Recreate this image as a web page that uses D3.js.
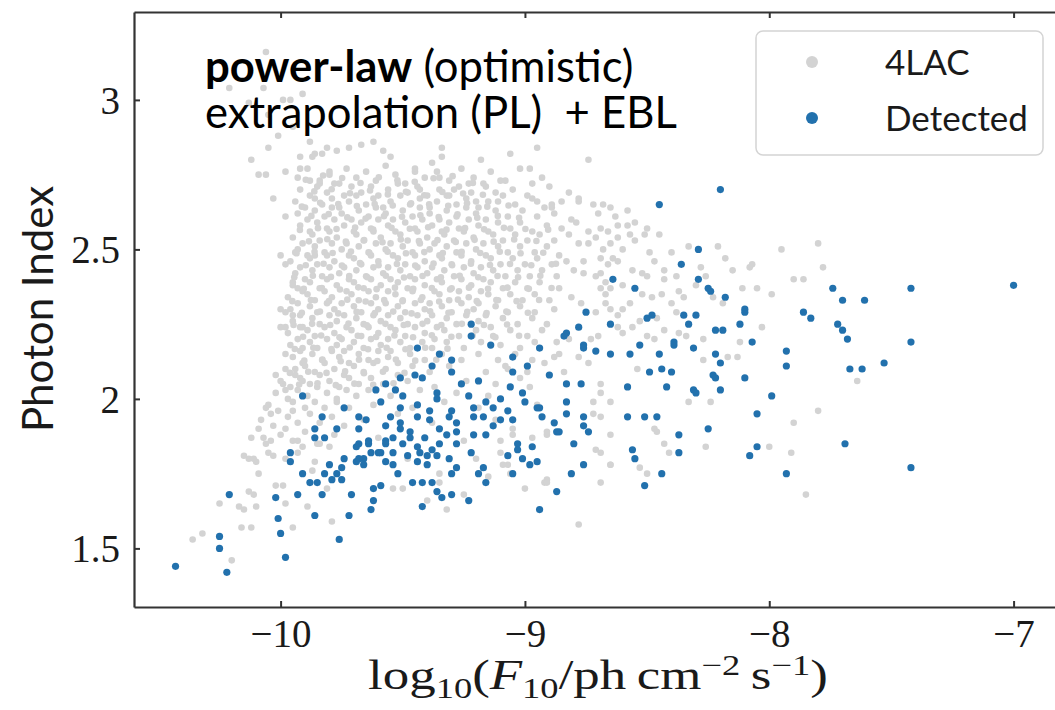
<!DOCTYPE html>
<html><head><meta charset="utf-8">
<script src="https://cdn.jsdelivr.net/npm/d3@7"></script>
<style>body{margin:0;background:#fff;overflow:hidden}</style>
</head><body>
<svg id="chart" width="1055" height="710"></svg>
<script>
// ---------- data ----------
const xTicks = [-10, -9, -8, -7];
const xTickLabels = ["\u221210", "\u22129", "\u22128", "\u22127"];
const yTicks = [1.5, 2, 2.5, 3];
const yTickLabels = ["1.5", "2", "2.5", "3"];
const seriesNames = ["4LAC", "Detected"];

// 4LAC sample: [log10 F10, photon index]
const lac4 = [
[-10.06,3.16],[-10.21,3.04],[-10.07,3.04],[-9.99,3.00],[-9.96,3.00],[-9.91,3.02],[-10.05,2.95],[-9.95,2.91],[-10.01,2.88],[-9.88,2.86],[-9.81,2.84],[-10.12,2.80],[-10.09,2.75],[-10.06,2.75],[-9.98,2.76],[-9.92,2.81],[-9.86,2.82],[-10.03,2.67],[-9.98,2.61],[-10.00,2.48],[-9.98,2.45],[-10.13,2.99],[-10.05,2.84],
[-9.94,2.49],[-9.86,2.48],[-9.95,2.39],[-9.93,2.37],[-10.00,2.30],[-9.98,2.29],[-9.95,2.28],[-9.98,2.24],[-9.92,2.24],
[-9.87,2.81],[-9.83,2.82],[-9.77,2.83],[-9.72,2.84],[-9.67,2.85],[-9.62,2.86],[-9.58,2.83],[-9.55,2.81],[-9.92,2.77],[-9.88,2.73],[-9.84,2.72],[-9.80,2.75],
[-9.34,2.84],[-9.18,2.80],[-9.06,2.82],[-8.95,2.84],[-8.74,2.80],[-9.38,2.79],[-9.34,2.81],[-9.45,2.76],[-9.35,2.74],[-9.23,2.72],[-9.10,2.73],[-8.98,2.77],[-8.97,2.72],[-9.16,2.71],[-9.29,2.70],[-9.43,2.70],[-8.78,2.66],[-8.89,2.64],[-9.11,2.66],[-9.20,2.66],[-8.95,2.66],[-8.57,2.55],[-8.65,2.52],[-8.76,2.46],[-8.62,2.46],[-8.69,2.37],[-8.67,2.35],[-8.52,2.35],
[-8.78,2.67],[-8.68,2.65],[-8.65,2.64],[-8.58,2.63],[-8.89,2.65],[-8.55,2.59],[-8.69,2.57],[-8.66,2.56],[-8.62,2.58],[-8.51,2.55],[-8.62,2.54],[-8.74,2.52],[-8.78,2.52],[-8.60,2.50],[-8.49,2.49],[-8.64,2.47],[-8.69,2.47],[-8.21,2.51],[-8.08,2.44],[-8.28,2.44],[-8.56,2.43],[-8.52,2.42],[-8.50,2.41],[-8.43,2.43],[-8.80,2.43],[-8.76,2.42],[-8.71,2.41],[-8.67,2.39],[-8.65,2.37],[-8.60,2.38],[-8.26,2.41],[-8.43,2.40],[-8.11,2.37],[-8.37,2.36],[-8.35,2.34],[-8.48,2.34],[-8.44,2.35],[-8.57,2.32],[-8.60,2.30],[-8.67,2.32],[-8.65,2.30],[-8.62,2.28],[-8.23,2.34],[-8.19,2.32],[-8.03,2.24],[-8.40,2.32],[-8.38,2.29],[-8.53,2.26],[-8.56,2.24],[-8.46,2.27],[-8.27,2.20],[-8.34,2.21],[-8.37,2.22],[-8.43,2.23],[-8.50,2.21],[-8.47,2.20],[-8.62,2.24],[-8.60,2.22],[-8.70,2.21],[-8.73,2.20],[-8.82,2.20],[-8.87,2.19],[-8.12,2.19],[-8.17,2.14],[-8.74,2.12],[-8.78,2.14],[-8.86,2.15],[-8.88,2.14],[-8.54,2.10],[-8.27,2.13],[-8.92,2.12],[-8.84,2.09],[-8.69,2.05],[-8.69,2.02],[-8.72,1.99],[-8.24,1.99],[-8.33,1.99],[-8.65,1.99],[-8.47,1.90],[-8.46,1.89],[-8.65,1.88],[-8.72,1.95],[-8.69,1.94],[-8.71,1.83],[-8.69,1.82],[-8.91,1.88],[-8.91,1.73],[-8.65,1.78],[-8.53,1.77],[-8.50,1.75],[-8.41,1.82],[-8.26,1.84],[-8.13,2.14],[-8.00,1.84],
[-8.78,1.58],[-8.92,1.72],[-9.32,1.63],[-9.07,1.78],[-9.06,1.75],[-8.69,1.72],[-8.65,1.78],[-8.91,1.89],[-8.43,1.85],[-7.91,1.82],[-7.90,1.92],[-7.80,1.96],[-7.85,1.68],[-7.64,2.06],[-7.80,2.52],[-8.07,2.45],[-7.90,2.40],[-7.86,2.40],[-7.99,2.35],
[-10.00,2.24],[-10.02,2.08],[-9.99,2.05],[-9.98,2.03],[-10.06,1.97],[-10.04,1.95],[-9.95,1.96],[-10.09,1.90],[-10.07,1.87],[-10.04,1.86],[-9.98,1.90],[-9.93,1.86],[-10.13,1.80],[-10.11,1.80],[-10.03,1.81],[-10.09,1.75],[-10.13,1.69],[-10.11,1.68],[-9.99,1.71],[-10.25,1.65],[-10.17,1.64],[-10.15,1.63],[-10.10,1.64],[-9.98,1.65],[-9.89,1.64],[-10.16,1.57],[-10.12,1.57],[-9.95,1.57],[-10.32,1.55],[-10.36,1.53],[-10.20,1.46],[-9.79,1.59],[-9.81,1.70],[-9.87,1.76],[-9.84,1.85],[-9.80,1.84],[-10.02,1.71],[-9.91,1.84],[-9.98,2.15],[-9.94,2.10],[-9.91,2.17],[-9.91,2.06],
[-9.07,2.10],[-8.98,2.04],[-8.95,1.98],[-9.05,1.90],[-9.10,1.86],[-8.97,1.87],[-9.20,1.80],[-9.15,1.74],[-9.35,1.72],[-9.50,1.70],[-9.25,1.68],[-9.00,1.70],[-9.40,1.66],[-9.09,1.78],[-9.35,1.75],[-9.54,1.70],[-8.91,1.72],
[-9.93,2.74],[-9.89,2.77],[-9.84,2.73],[-9.80,2.76],[-9.76,2.72],[-9.73,2.77],[-9.69,2.74],[-9.65,2.76],[-9.61,2.73],[-9.57,2.78],[-9.53,2.75],[-9.49,2.72],[-9.45,2.77],[-9.41,2.74],[-9.36,2.76],[-9.31,2.73],[-9.26,2.77],[-9.21,2.74],[-9.14,2.76],[-9.08,2.73],[-9.02,2.77],[-8.93,2.74],
[-9.92,2.70],[-9.88,2.68],[-9.85,2.71],[-9.81,2.69],[-9.78,2.72],[-9.74,2.68],[-9.71,2.71],[-9.67,2.69],[-9.63,2.71],[-9.60,2.68],[-9.56,2.70],[-9.52,2.72],[-9.48,2.69],[-9.44,2.71],[-9.40,2.68],[-9.35,2.70],[-9.31,2.68],[-9.27,2.71],[-9.22,2.69],[-9.17,2.72],[-9.12,2.69],[-9.05,2.70],[-8.99,2.68],[-8.90,2.71],[-8.82,2.69],
[-9.94,2.66],[-9.90,2.64],[-9.86,2.67],[-9.83,2.65],[-9.79,2.67],[-9.76,2.64],[-9.72,2.66],[-9.69,2.68],[-9.65,2.65],[-9.62,2.67],[-9.58,2.64],[-9.55,2.66],[-9.51,2.68],[-9.47,2.65],[-9.43,2.67],[-9.39,2.64],[-9.36,2.66],[-9.32,2.68],[-9.28,2.65],[-9.24,2.67],[-9.19,2.64],[-9.15,2.66],[-9.09,2.68],[-9.04,2.65],[-8.97,2.67],[-8.92,2.64],[-8.85,2.66],[-8.72,2.65],
[-9.93,2.62],[-9.89,2.60],[-9.86,2.63],[-9.82,2.61],[-9.79,2.64],[-9.75,2.62],[-9.71,2.60],[-9.68,2.63],[-9.64,2.61],[-9.61,2.64],[-9.57,2.62],[-9.54,2.60],[-9.50,2.63],[-9.46,2.61],[-9.43,2.64],[-9.39,2.62],[-9.35,2.60],[-9.32,2.63],[-9.28,2.61],[-9.24,2.64],[-9.20,2.62],[-9.16,2.60],[-9.12,2.63],[-9.07,2.61],[-9.01,2.63],[-8.95,2.61],[-8.88,2.62],[-8.81,2.60],[-8.70,2.62],[-8.63,2.61],
[-9.92,2.58],[-9.88,2.56],[-9.85,2.59],[-9.81,2.57],[-9.78,2.60],[-9.74,2.58],[-9.70,2.56],[-9.67,2.59],[-9.63,2.57],[-9.60,2.60],[-9.56,2.58],[-9.53,2.56],[-9.49,2.59],[-9.45,2.57],[-9.42,2.60],[-9.38,2.58],[-9.34,2.56],[-9.31,2.59],[-9.27,2.57],[-9.23,2.60],[-9.19,2.58],[-9.15,2.56],[-9.11,2.59],[-9.06,2.57],[-9.02,2.59],[-8.97,2.56],[-8.91,2.58],[-8.85,2.57],[-8.79,2.59],[-8.74,2.56],[-8.58,2.58],[-8.50,2.57],
[-9.95,2.54],[-9.91,2.52],[-9.87,2.55],[-9.84,2.53],[-9.80,2.56],[-9.77,2.54],[-9.73,2.52],[-9.69,2.55],[-9.66,2.53],[-9.62,2.56],[-9.59,2.54],[-9.55,2.52],[-9.51,2.55],[-9.48,2.53],[-9.44,2.56],[-9.40,2.54],[-9.37,2.52],[-9.33,2.55],[-9.29,2.53],[-9.25,2.56],[-9.21,2.54],[-9.17,2.52],[-9.13,2.55],[-9.09,2.53],[-9.04,2.55],[-8.99,2.53],[-8.94,2.55],[-8.88,2.53],[-8.82,2.55],[-8.71,2.54],[-8.55,2.53],[-8.45,2.55],
[-9.93,2.50],[-9.89,2.48],[-9.86,2.51],[-9.82,2.49],[-9.79,2.52],[-9.75,2.50],[-9.72,2.48],[-9.68,2.51],[-9.64,2.49],[-9.61,2.52],[-9.57,2.50],[-9.54,2.48],[-9.50,2.51],[-9.46,2.49],[-9.43,2.52],[-9.39,2.50],[-9.35,2.48],[-9.32,2.51],[-9.28,2.49],[-9.24,2.52],[-9.20,2.50],[-9.16,2.48],[-9.11,2.51],[-9.07,2.49],[-9.02,2.51],[-8.96,2.49],[-8.91,2.51],[-8.86,2.48],[-8.68,2.50],[-8.40,2.49],[-8.33,2.51],[-7.95,2.50],
[-9.96,2.46],[-9.92,2.44],[-9.88,2.47],[-9.85,2.45],[-9.81,2.48],[-9.78,2.46],[-9.74,2.44],[-9.70,2.47],[-9.67,2.45],[-9.63,2.48],[-9.60,2.46],[-9.56,2.44],[-9.52,2.47],[-9.49,2.45],[-9.45,2.48],[-9.41,2.46],[-9.38,2.44],[-9.34,2.47],[-9.30,2.45],[-9.26,2.48],[-9.22,2.46],[-9.18,2.44],[-9.14,2.47],[-9.10,2.45],[-9.05,2.47],[-9.00,2.45],[-8.95,2.47],[-8.89,2.45],[-8.83,2.46],[-8.66,2.45],[-8.47,2.46],[-8.18,2.47],
[-9.94,2.42],[-9.90,2.40],[-9.87,2.43],[-9.83,2.41],[-9.80,2.44],[-9.76,2.42],[-9.72,2.40],[-9.69,2.43],[-9.65,2.41],[-9.62,2.44],[-9.58,2.42],[-9.55,2.40],[-9.51,2.43],[-9.47,2.41],[-9.44,2.44],[-9.40,2.42],[-9.36,2.40],[-9.33,2.43],[-9.29,2.41],[-9.25,2.44],[-9.21,2.42],[-9.17,2.40],[-9.13,2.43],[-9.08,2.41],[-9.03,2.43],[-8.98,2.41],[-8.93,2.43],[-8.87,2.41],[-8.69,2.42],[-8.38,2.41],[-8.15,2.43],[-7.78,2.44],
[-9.95,2.38],[-9.91,2.36],[-9.88,2.39],[-9.84,2.37],[-9.81,2.40],[-9.77,2.38],[-9.73,2.36],[-9.70,2.39],[-9.66,2.37],[-9.63,2.40],[-9.59,2.38],[-9.56,2.36],[-9.52,2.39],[-9.48,2.37],[-9.45,2.40],[-9.41,2.38],[-9.37,2.36],[-9.34,2.39],[-9.30,2.37],[-9.26,2.40],[-9.22,2.38],[-9.18,2.36],[-9.14,2.39],[-9.09,2.37],[-9.04,2.39],[-8.99,2.37],[-8.94,2.39],[-8.86,2.37],[-8.30,2.38],[-8.05,2.37],
[-9.97,2.34],[-9.93,2.32],[-9.89,2.35],[-9.86,2.33],[-9.82,2.36],[-9.79,2.34],[-9.75,2.32],[-9.71,2.35],[-9.68,2.33],[-9.64,2.36],[-9.61,2.34],[-9.57,2.32],[-9.53,2.35],[-9.50,2.33],[-9.46,2.36],[-9.42,2.34],[-9.39,2.32],[-9.35,2.35],[-9.31,2.33],[-9.27,2.36],[-9.23,2.34],[-9.19,2.32],[-9.15,2.35],[-9.11,2.33],[-9.06,2.35],[-9.01,2.33],[-8.96,2.35],[-8.90,2.33],[-8.81,2.34],[-8.77,2.32],
[-9.96,2.30],[-9.92,2.28],[-9.88,2.31],[-9.85,2.29],[-9.81,2.32],[-9.78,2.30],[-9.74,2.28],[-9.70,2.31],[-9.67,2.29],[-9.63,2.32],[-9.60,2.30],[-9.56,2.28],[-9.52,2.31],[-9.49,2.29],[-9.45,2.32],[-9.41,2.30],[-9.38,2.28],[-9.34,2.31],[-9.30,2.29],[-9.26,2.32],[-9.21,2.30],[-9.16,2.28],[-9.12,2.31],[-9.07,2.29],[-9.02,2.31],[-8.96,2.29],[-8.88,2.30],[-8.71,2.29],
[-9.95,2.26],[-9.91,2.24],[-9.87,2.27],[-9.84,2.25],[-9.80,2.28],[-9.77,2.26],[-9.73,2.24],[-9.69,2.27],[-9.66,2.25],[-9.62,2.28],[-9.59,2.26],[-9.55,2.24],[-9.51,2.27],[-9.48,2.25],[-9.44,2.28],[-9.40,2.26],[-9.36,2.24],[-9.32,2.27],[-9.28,2.25],[-9.24,2.28],[-9.19,2.26],[-9.14,2.24],[-9.09,2.27],[-9.03,2.25],[-8.97,2.27],[-8.91,2.25],
[-9.97,2.22],[-9.93,2.20],[-9.89,2.23],[-9.86,2.21],[-9.82,2.24],[-9.78,2.22],[-9.75,2.20],[-9.71,2.23],[-9.67,2.21],[-9.64,2.24],[-9.60,2.22],[-9.56,2.20],[-9.53,2.23],[-9.49,2.21],[-9.45,2.24],[-9.41,2.22],[-9.37,2.20],[-9.33,2.23],[-9.27,2.21],[-9.20,2.23],[-9.13,2.21],[-9.06,2.23],[-8.99,2.21],[-8.93,2.23],
[-9.96,2.18],[-9.92,2.16],[-9.88,2.19],[-9.85,2.17],[-9.81,2.20],[-9.77,2.18],[-9.74,2.16],[-9.70,2.19],[-9.66,2.17],[-9.63,2.20],[-9.59,2.18],[-9.55,2.16],[-9.51,2.19],[-9.47,2.17],[-9.42,2.19],[-9.38,2.17],[-9.32,2.19],[-9.25,2.17],[-9.18,2.19],[-9.10,2.18],[-9.02,2.17],[-8.96,2.19],
[-9.95,2.14],[-9.91,2.12],[-9.87,2.15],[-9.83,2.13],[-9.79,2.16],[-9.76,2.14],[-9.72,2.12],[-9.68,2.15],[-9.64,2.13],[-9.60,2.16],[-9.56,2.14],[-9.52,2.12],[-9.47,2.15],[-9.41,2.13],[-9.34,2.15],[-9.26,2.13],[-9.19,2.15],[-9.11,2.13],[-9.04,2.15],[-8.97,2.13],
[-9.98,2.10],[-9.94,2.08],[-9.90,2.11],[-9.86,2.09],[-9.82,2.12],[-9.78,2.10],[-9.74,2.08],[-9.70,2.11],[-9.66,2.09],[-9.62,2.12],[-9.57,2.10],[-9.52,2.08],[-9.46,2.11],[-9.39,2.09],[-9.31,2.11],[-9.16,2.09],[-9.08,2.11],[-8.99,2.09],
[-10.00,2.06],[-9.96,2.04],[-9.92,2.07],[-9.88,2.05],[-9.84,2.08],[-9.80,2.06],[-9.76,2.04],[-9.72,2.07],[-9.68,2.05],[-9.63,2.07],[-9.58,2.05],[-9.48,2.06],[-9.37,2.04],[-9.24,2.06],[-9.12,2.05],[-9.02,2.07],
[-10.02,2.02],[-9.97,2.00],[-9.93,2.03],[-9.89,2.01],[-9.85,2.04],[-9.81,2.02],[-9.77,2.00],[-9.73,2.03],[-9.69,2.01],[-9.64,2.03],[-9.55,2.01],[-9.43,2.03],[-9.28,2.02],[-9.15,2.01],
[-10.05,1.98],[-10.01,1.96],[-9.95,1.99],[-9.90,1.97],[-9.86,1.99],[-9.82,1.97],[-9.77,1.99],[-9.72,1.97],[-9.62,1.98],[-9.46,1.97],[-9.33,1.99],[-9.19,1.97],
[-10.08,1.93],[-10.03,1.91],[-9.97,1.94],[-9.93,1.92],[-9.88,1.95],[-9.84,1.92],[-9.79,1.94],[-9.74,1.91],[-9.66,1.93],[-9.52,1.95],[-9.38,1.92],[-9.12,1.93],
[-10.12,1.87],[-10.06,1.85],[-10.00,1.88],[-9.95,1.86],[-9.90,1.89],[-9.85,1.85],[-9.78,1.88],[-9.60,1.87],[-9.25,1.86],[-9.05,1.88],
[-10.15,1.81],[-10.10,1.79],[-10.05,1.82],[-9.98,1.80],[-9.93,1.82],[-9.86,1.79],[-9.48,1.80],[-9.10,1.82],
[-9.897,2.733],[-9.862,2.694],[-9.826,2.747],[-9.791,2.701],[-9.748,2.739],[-9.716,2.688],[-9.673,2.722],[-9.634,2.697],[-9.598,2.741],[-9.561,2.684],[-9.522,2.731],[-9.487,2.693],[-9.451,2.726],[-9.412,2.681],[-9.374,2.738],[-9.338,2.692],[-9.296,2.745],[-9.253,2.687],[-9.213,2.722],[-9.172,2.683],
[-9.913,2.643],[-9.874,2.612],[-9.838,2.656],[-9.803,2.618],[-9.764,2.652],[-9.727,2.607],[-9.688,2.645],[-9.652,2.603],[-9.615,2.652],[-9.577,2.611],[-9.541,2.647],[-9.503,2.609],[-9.466,2.654],[-9.428,2.614],[-9.392,2.651],[-9.353,2.608],[-9.314,2.646],[-9.276,2.617],[-9.237,2.654],[-9.195,2.606],[-9.154,2.643],[-9.111,2.612],[-9.067,2.647],[-9.024,2.606],
[-9.921,2.565],[-9.884,2.527],[-9.847,2.571],[-9.809,2.534],[-9.771,2.568],[-9.733,2.526],[-9.695,2.573],[-9.658,2.531],[-9.621,2.566],[-9.583,2.524],[-9.546,2.572],[-9.508,2.533],[-9.471,2.569],[-9.434,2.528],[-9.396,2.574],[-9.358,2.531],[-9.321,2.566],[-9.283,2.525],[-9.245,2.571],[-9.206,2.532],[-9.167,2.567],[-9.128,2.526],[-9.086,2.572],[-9.044,2.533],[-8.998,2.568],[-8.953,2.528],[-8.905,2.566],
[-9.935,2.487],[-9.897,2.447],[-9.861,2.492],[-9.824,2.452],[-9.787,2.488],[-9.749,2.446],[-9.712,2.493],[-9.675,2.454],[-9.637,2.489],[-9.599,2.447],[-9.562,2.492],[-9.524,2.451],[-9.487,2.487],[-9.449,2.446],[-9.412,2.491],[-9.374,2.453],[-9.336,2.488],[-9.298,2.447],[-9.259,2.492],[-9.221,2.452],[-9.183,2.488],[-9.143,2.448],[-9.103,2.492],[-9.061,2.451],[-9.018,2.487],[-8.974,2.447],[-8.925,2.489],[-8.873,2.452],
[-9.944,2.407],[-9.905,2.368],[-9.868,2.412],[-9.831,2.371],[-9.794,2.408],[-9.757,2.366],[-9.719,2.411],[-9.682,2.373],[-9.645,2.407],[-9.607,2.367],[-9.569,2.412],[-9.532,2.372],[-9.495,2.406],[-9.457,2.368],[-9.419,2.411],[-9.381,2.371],[-9.344,2.407],[-9.306,2.366],[-9.267,2.412],[-9.229,2.372],[-9.191,2.407],[-9.151,2.368],[-9.112,2.411],[-9.071,2.372],[-9.028,2.407],[-8.984,2.368],[-8.937,2.412],[-8.891,2.371],
[-9.952,2.327],[-9.913,2.288],[-9.876,2.331],[-9.839,2.292],[-9.802,2.327],[-9.764,2.286],[-9.727,2.332],[-9.689,2.291],[-9.652,2.326],[-9.614,2.287],[-9.576,2.331],[-9.539,2.292],[-9.501,2.327],[-9.464,2.286],[-9.426,2.331],[-9.388,2.293],[-9.351,2.326],[-9.313,2.288],[-9.274,2.332],[-9.236,2.291],[-9.197,2.327],[-9.157,2.287],[-9.117,2.331],[-9.076,2.292],[-9.034,2.327],[-8.988,2.288],[-8.942,2.331],
[-9.947,2.247],[-9.908,2.208],[-9.871,2.251],[-9.834,2.212],[-9.797,2.247],[-9.759,2.206],[-9.722,2.252],[-9.684,2.211],[-9.647,2.246],[-9.609,2.207],[-9.571,2.251],[-9.534,2.212],[-9.496,2.247],[-9.458,2.206],[-9.419,2.251],[-9.381,2.213],[-9.342,2.247],[-9.301,2.208],[-9.258,2.251],[-9.214,2.212],[-9.168,2.247],[-9.121,2.206],[-9.073,2.249],[-9.024,2.211],
[-9.942,2.167],[-9.903,2.128],[-9.866,2.171],[-9.829,2.132],[-9.792,2.167],[-9.754,2.126],[-9.717,2.172],[-9.679,2.131],[-9.642,2.166],[-9.604,2.127],[-9.566,2.171],[-9.528,2.132],[-9.489,2.166],[-9.449,2.128],[-9.408,2.171],[-9.363,2.131],[-9.317,2.168],
[-9.962,2.087],[-9.924,2.048],[-9.887,2.091],[-9.849,2.052],[-9.812,2.087],[-9.774,2.046],[-9.736,2.092],[-9.698,2.051],[-9.659,2.086],[-9.621,2.047],[-9.581,2.091],[-9.538,2.052],[-9.493,2.087]
];

// Detected sample: [log10 F10, photon index]
const detected = [
[-9.91,2.01],[-9.83,1.94],[-9.86,1.90],[-9.86,1.87],[-9.82,1.87],[-9.77,1.90],[-9.96,1.82],[-9.96,1.79],[-9.80,1.78],[-9.82,1.75],[-9.79,1.73],[-9.77,1.75],[-9.91,1.75],[-9.88,1.72],[-9.85,1.72],[-10.21,1.68],[-10.02,1.67],[-9.93,1.68],[-9.83,1.68],[-9.86,1.61],[-10.01,1.60],[-10.00,1.55],[-10.25,1.54],[-10.25,1.50],[-9.76,1.53],[-9.98,1.47],[-10.43,1.44],[-10.22,1.42],
[-9.68,1.85],[-9.64,1.85],[-9.57,1.86],[-9.69,1.79],[-9.66,1.80],[-9.60,1.82],
[-9.22,2.25],[-9.22,2.21],[-9.14,2.18],[-9.44,2.17],[-8.94,2.17],[-9.35,2.15],[-9.05,2.14],[-9.30,2.13],[-9.38,2.11],[-8.99,2.11],[-9.30,2.09],[-9.05,2.09],[-8.90,2.08],[-9.45,2.08],[-9.51,2.07],[-9.42,2.07],[-9.19,2.06],[-9.26,2.05],[-9.57,2.05],[-9.06,2.04],[-9.61,2.03],[-9.53,2.03],[-9.36,2.02],[-9.23,2.01],[-9.01,2.02],[-9.50,2.01],[-9.36,2.00],[-9.10,2.00],[-9.59,1.99],[-9.00,1.99],[-9.16,1.99],[-9.74,1.97],[-9.51,1.97],[-9.44,1.98],[-9.21,1.97],[-9.13,1.97],[-8.95,1.97],[-8.94,1.97],[-9.39,1.96],[-9.30,1.96],[-9.07,1.96],[-9.55,1.94],[-9.68,1.94],[-9.44,1.94],[-9.31,1.94],[-9.21,1.94],[-9.17,1.94],[-8.93,1.94],[-9.10,1.93],[-9.05,1.93],[-9.65,1.93],[-9.51,1.92],[-9.39,1.93],[-9.28,1.92],[-9.57,1.91],[-8.88,1.92],[-9.13,1.91],[-9.35,1.90],[-9.47,1.89],[-9.51,1.90],[-9.68,1.90],[-9.28,1.89],[-9.21,1.88],[-8.87,1.89],[-9.16,1.88],[-9.54,1.87],[-9.47,1.87],[-9.41,1.87],[-9.32,1.88],[-9.64,1.86],[-9.57,1.85],[-9.50,1.85],[-9.35,1.85],[-9.28,1.85],[-9.03,1.85],[-9.69,1.84],[-9.44,1.84],[-8.97,1.84],[-9.03,1.83],[-9.38,1.83],[-9.59,1.82],[-9.54,1.82],[-9.22,1.82],[-9.63,1.82],[-9.48,1.81],[-9.43,1.82],[-9.40,1.81],[-9.36,1.81],[-9.07,1.81],[-9.74,1.80],[-9.68,1.80],[-9.31,1.80],[-9.01,1.80],[-8.95,1.79],[-9.57,1.79],[-9.44,1.79],[-9.66,1.78],[-9.40,1.78],[-9.54,1.78],[-8.98,1.78],[-9.75,1.77],[-9.28,1.77],[-9.17,1.77],[-9.52,1.75],[-9.05,1.75],[-9.30,1.75],[-9.19,1.75],[-9.75,1.73],[-9.46,1.72],[-9.42,1.72],[-9.38,1.72],[-9.16,1.72],[-9.59,1.71],[-9.62,1.70],[-9.36,1.69],[-9.71,1.68],[-9.30,1.68],[-9.34,1.67],[-9.62,1.66],[-9.23,1.66],[-8.87,1.69],[-9.42,1.64],[-9.63,1.63],[-8.94,1.63],[-9.72,1.61],
[-8.20,2.70],[-8.45,2.65],[-8.29,2.50],[-8.36,2.45],[-8.64,2.40],[-8.29,2.40],[-8.55,2.37],[-8.25,2.37],[-8.24,2.36],[-8.18,2.34],[-8.10,2.30],[-8.10,2.29],[-8.75,2.29],[-8.50,2.27],[-8.48,2.28],[-8.35,2.28],[-8.30,2.28],[-8.33,2.25],[-8.65,2.25],[-8.12,2.25],[-8.78,2.24],[-8.83,2.22],[-8.84,2.21],[-8.22,2.23],[-8.19,2.23],[-8.39,2.19],[-8.39,2.18],[-8.07,2.19],[-8.76,2.18],[-8.53,2.18],[-8.76,2.17],[-8.71,2.16],[-8.31,2.17],[-8.65,2.15],[-8.57,2.15],[-8.45,2.15],[-8.22,2.15],[-8.20,2.12],[-8.49,2.09],[-8.44,2.10],[-8.40,2.09],[-8.23,2.08],[-8.22,2.07],[-8.10,2.07],[-8.83,2.05],[-8.77,2.05],[-8.58,2.04],[-8.42,2.04],[-8.31,2.03],[-8.30,2.02],[-8.20,2.03],[-8.83,1.99],[-8.83,1.95],[-8.76,1.94],[-8.58,1.94],[-8.51,1.94],[-8.46,1.94],[-8.05,1.95],[-8.76,1.91],[-8.74,1.89],[-8.86,1.89],[-8.25,1.90],[-8.37,1.88],[-8.80,1.85],[-8.56,1.83],[-8.55,1.80],[-8.37,1.82],[-8.05,1.84],[-8.08,1.81],[-8.76,1.78],[-8.81,1.75],[-8.44,1.75],[-8.51,1.71],
[-7.86,2.29],[-7.83,2.27],[-7.72,2.25],[-7.70,2.23],[-7.68,2.20],[-7.42,2.19],[-7.93,2.16],[-7.93,2.11],[-7.67,2.10],[-7.62,2.10],[-7.53,2.12],[-7.99,2.01],[-7.69,1.85],[-7.93,1.75],[-7.42,1.77],
[-7.74,2.37],[-7.70,2.33],[-7.61,2.33],[-7.42,2.37],[-7.00,2.38]
];

// ---------- layout ----------
const W = 1055, H = 710;
const svg = d3.select("#chart");
const x = d3.scaleLinear().domain([-10.6, -6.7]).range([134, 134 + 3.9 * 244.33]);
const y = d3.scaleLinear().domain([1.304, 3.294]).range([607, 12]);
const serif = "'Liberation Serif','DejaVu Serif',serif";
const sans = "Lato,'Open Sans','DejaVu Sans',sans-serif";
const grayCol = "#d3d3d3", blueCol = "#2271ad";

svg.append("rect").attr("width", W).attr("height", H).attr("fill", "#fff");

// points
svg.append("g").selectAll("circle").data(lac4).join("circle")
  .attr("cx", d => x(d[0])).attr("cy", d => y(d[1])).attr("r", 3.3).attr("fill", grayCol);
svg.append("g").selectAll("circle").data(detected).join("circle")
  .attr("cx", d => x(d[0])).attr("cy", d => y(d[1])).attr("r", 3.6).attr("fill", blueCol);

// axes
const axisColor = "#333";
function styleAxis(g) {
  g.select(".domain").attr("stroke", axisColor).attr("stroke-width", 2.2);
  g.selectAll(".tick line").attr("stroke", axisColor).attr("stroke-width", 2);
  g.selectAll(".tick text").attr("font-family", serif).attr("font-size", 39).attr("fill", "#1a1a1a");
}
const gl = svg.append("g").attr("transform", `translate(${x(-10.6)},0)`)
  .call(d3.axisLeft(y).tickValues(yTicks).tickFormat((d, i) => yTickLabels[i]).tickSizeInner(-6).tickSizeOuter(0).tickPadding(14));
styleAxis(gl);
gl.selectAll(".tick text").attr("dy", "0.34em");
const gb = svg.append("g").attr("transform", `translate(0,${y(1.304)})`)
  .call(d3.axisBottom(x).tickValues(xTicks).tickFormat((d, i) => xTickLabels[i]).tickSizeInner(-6).tickSizeOuter(0).tickPadding(12));
styleAxis(gb);
const gt = svg.append("g").attr("transform", `translate(0,${y(3.294)})`)
  .call(d3.axisTop(x).tickValues(xTicks).tickFormat(() => "").tickSizeInner(-6).tickSizeOuter(0));
styleAxis(gt);

// axis labels
svg.append("text").attr("transform", "translate(53,309) rotate(-90)")
  .attr("text-anchor", "middle").attr("font-family", sans).attr("font-size", 42).attr("fill", "#1a1a1a")
  .text("Photon Index");

const xl = svg.append("text").attr("text-anchor", "middle")
  .attr("font-family", serif).attr("font-size", 42).attr("fill", "#1a1a1a");
xl.append("tspan").text("log");
xl.append("tspan").attr("class", "s").attr("dy", 9).text("10");
xl.append("tspan").attr("dy", -9).text("(");
xl.append("tspan").attr("font-style", "italic").text("F");
xl.append("tspan").attr("class", "s").attr("dy", 9).text("10");
xl.append("tspan").attr("dy", -9).text("/ph\u2009cm");
xl.append("tspan").attr("class", "s").attr("dy", -14).text("\u22122");
xl.append("tspan").attr("dy", 14).text("\u2009s");
xl.append("tspan").attr("class", "s").attr("dy", -14).text("\u22121");
xl.append("tspan").attr("dy", 14).text(")");
xl.selectAll("tspan.s").attr("font-size", 29);
// stretch horizontally to the reference width (~460 px) without changing glyph height
const xlw = xl.node().getComputedTextLength();
xl.attr("transform", `translate(598,689) scale(${460 / xlw},1)`);

// legend
const lg = svg.append("g");
lg.append("rect").attr("x", 756).attr("y", 31).attr("width", 287).attr("height", 124).attr("rx", 7)
  .attr("fill", "#fff").attr("fill-opacity", 0.85).attr("stroke", "#d4d4d4").attr("stroke-width", 1.5);
const legCols = [grayCol, blueCol];
seriesNames.forEach((name, i) => {
  const cy = 62 + i * 56;
  lg.append("circle").attr("cx", 812).attr("cy", cy).attr("r", 6).attr("fill", legCols[i]);
  lg.append("text").attr("x", 885).attr("y", cy + 13).attr("font-family", sans).attr("font-size", 35)
    .attr("fill", "#1a1a1a").text(name);
});

// annotation
const ann = svg.append("g").attr("font-family", sans).attr("fill", "#000");
const t1 = ann.append("text").attr("x", 205).attr("y", 82).attr("font-size", 44).style("white-space", "pre");
t1.append("tspan").attr("font-weight", "bold").text("power-law");
t1.append("tspan").text(" (optimistic)");
const t2 = ann.append("text").attr("x", 205).attr("y", 128).attr("font-size", 44).style("white-space", "pre")
  .text("extrapolation (PL)  + EBL");
const w2 = t2.node().getComputedTextLength();
const fs = 44 * 472 / w2;
t1.attr("font-size", fs); t2.attr("font-size", fs);
</script>
</body></html>
